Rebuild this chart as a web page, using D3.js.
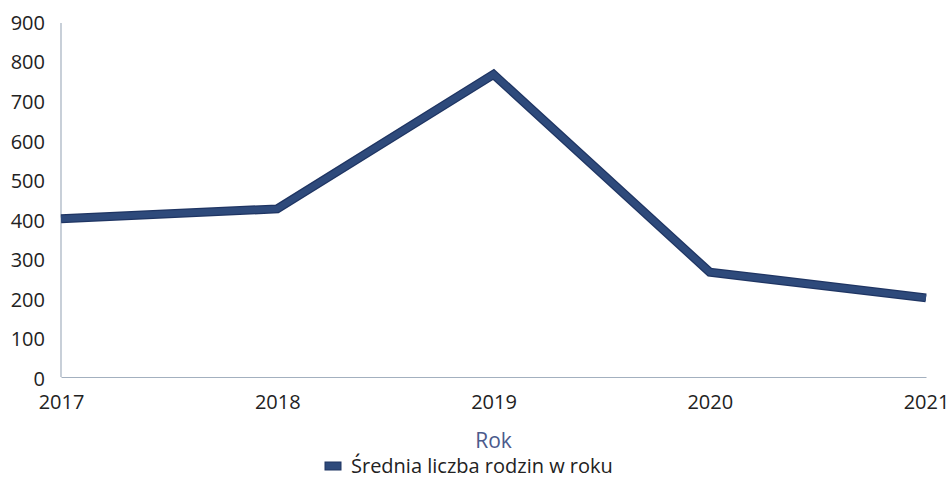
<!DOCTYPE html>
<html>
<head>
<meta charset="utf-8">
<script src="https://cdn.jsdelivr.net/npm/d3@7"></script>
<style>
  html, body { margin: 0; padding: 0; background: #ffffff; }
  svg { display: block; }
  svg text { font-family: "Open Sans", Lato, sans-serif; }
</style>
</head>
<body>
<svg id="chart" width="949" height="502"></svg>
<script>
// Average number of families per year
const years = ["2017", "2018", "2019", "2020", "2021"];
const families = [400, 425, 765, 265, 200];
const yTicks = [0, 100, 200, 300, 400, 500, 600, 700, 800, 900];
const seriesName = "Średnia liczba rodzin w roku";
const xTitle = "Rok";

const svg = d3.select("#chart");
const margin = { left: 61, right: 23, top: 21, bottom: 125 };
const W = 949, H = 502;

const x = d3.scalePoint().domain(years).range([margin.left, W - margin.right]);
const y = d3.scaleLinear().domain([0, 900]).range([H - margin.bottom, margin.top]);

const axisColor = "#a3b0bf";
const textColor = "#222222";
const lineColor = "#2e4a7b";
const fontFamily = "'Open Sans', Lato, sans-serif";

// Y axis
const yAxis = svg.append("g")
  .attr("transform", `translate(${margin.left},0)`)
  .call(d3.axisLeft(y).tickValues(yTicks).tickSize(0).tickPadding(16));
yAxis.attr("font-family", fontFamily);
yAxis.select(".domain").attr("stroke", axisColor).attr("stroke-width", 1.2)
  .attr("d", `M0,${y(0)}V${y(900) + 2}`);
yAxis.selectAll("text").attr("fill", textColor).attr("font-size", 20)
  .attr("dy", "0.42em");

// X axis
const xAxis = svg.append("g")
  .attr("transform", `translate(0,${y(0)})`)
  .call(d3.axisBottom(x).tickSize(0).tickPadding(18));
xAxis.attr("font-family", fontFamily);
xAxis.select(".domain").attr("stroke", axisColor).attr("stroke-width", 1.2);
xAxis.selectAll("text").attr("fill", textColor).attr("font-size", 20);

// Axis title
svg.append("text")
  .attr("x", (margin.left + W - margin.right) / 2)
  .attr("y", 448)
  .attr("text-anchor", "middle")
  .attr("font-size", 21)
  .attr("fill", "#4b5a8c")
  .text(xTitle);

// Data line: dark edge under a slightly lighter core
const line = d3.line().x((d, i) => x(years[i])).y(d => y(d));
svg.append("path")
  .datum(families)
  .attr("d", line)
  .attr("fill", "none")
  .attr("stroke", "#1f3563")
  .attr("stroke-width", 9)
  .attr("stroke-linejoin", "miter");
svg.append("path")
  .datum(families)
  .attr("d", line)
  .attr("fill", "none")
  .attr("stroke", lineColor)
  .attr("stroke-width", 6.5)
  .attr("stroke-linejoin", "miter");

// Legend
const legend = svg.append("g").attr("transform", "translate(325,466)");
legend.append("rect")
  .attr("x", 0).attr("y", -4).attr("width", 16).attr("height", 8)
  .attr("fill", lineColor).attr("stroke", "#1f3563").attr("stroke-width", 1);
legend.append("text")
  .attr("x", 26).attr("y", 0).attr("dy", "0.36em")
  .attr("font-size", 20).attr("fill", textColor)
  .text(seriesName);
</script>
</body>
</html>
